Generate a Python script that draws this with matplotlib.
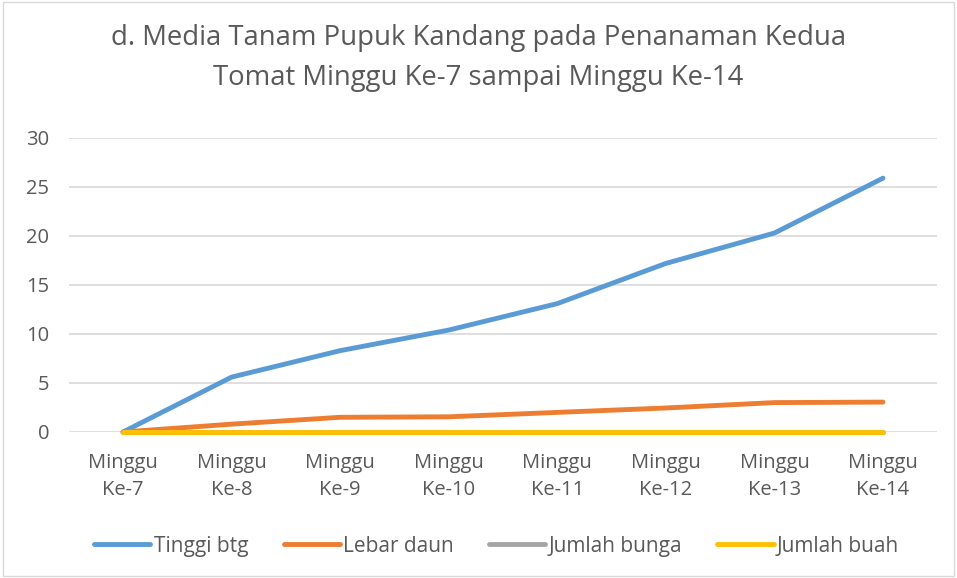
import matplotlib.pyplot as plt
from matplotlib.patches import Rectangle

plt.rcParams['font.family'] = ['Open Sans', 'DejaVu Sans']

# -----------------------------
#  Data
# -----------------------------
minggu = ["Minggu\nKe-7", "Minggu\nKe-8", "Minggu\nKe-9", "Minggu\nKe-10",
          "Minggu\nKe-11", "Minggu\nKe-12", "Minggu\nKe-13", "Minggu\nKe-14"]
tinggi_btg = [0, 5.6, 8.3, 10.4, 13.1, 17.2, 20.3, 25.9]
lebar_daun = [0, 0.8, 1.5, 1.55, 2.0, 2.45, 3.0, 3.05]
jumlah_bunga = [0, 0, 0, 0, 0, 0, 0, 0]
jumlah_buah = [0, 0, 0, 0, 0, 0, 0, 0]

text_col = "#595959"

fig = plt.figure(figsize=(9.57, 5.78), dpi=100)
ax = fig.add_axes([0.0718, 0.2526, 0.9076, 0.5087])

x = range(len(minggu))
for vals, col, lab in [(tinggi_btg, "#5B9BD5", "Tinggi btg"),
                       (lebar_daun, "#ED7D31", "Lebar daun"),
                       (jumlah_bunga, "#A5A5A5", "Jumlah bunga"),
                       (jumlah_buah, "#FFC000", "Jumlah buah")]:
    ax.plot(x, vals, color=col, lw=3.5, solid_capstyle="round", label=lab, clip_on=False)

ax.set_xlim(-0.5, len(minggu) - 0.5)
ax.set_ylim(0, 30)
ax.set_yticks(range(0, 31, 5))
ax.set_xticks(list(x))
ax.set_xticklabels(minggu, fontsize=14.5, color=text_col, linespacing=1.5)
ax.tick_params(axis="y", labelsize=14.5, labelcolor=text_col, length=0, pad=14)
ax.tick_params(axis="x", length=0, pad=15)
ax.grid(True, axis="y", color="#D9D9D9", lw=1.2)
ax.set_axisbelow(True)
for s in ax.spines.values():
    s.set_visible(False)

fig.text(0.5, 0.900, "d. Media Tanam Pupuk Kandang pada Penanaman Kedua\nTomat Minggu Ke-7 sampai Minggu Ke-14",
         ha="center", va="center", fontsize=19.8, color=text_col, linespacing=1.55)

leg = fig.legend(loc="center", bbox_to_anchor=(0.519, 0.055), ncol=4, frameon=False,
                 fontsize=15, handlelength=2.7, handletextpad=0.15, columnspacing=1.7)
for t in leg.get_texts():
    t.set_color(text_col)

# chart border
fig.add_artist(Rectangle((0.003, 0.004), 0.994, 0.992, transform=fig.transFigure,
                         fill=False, edgecolor="#D9D9D9", lw=1))

fig.savefig("out.png", dpi=100)
